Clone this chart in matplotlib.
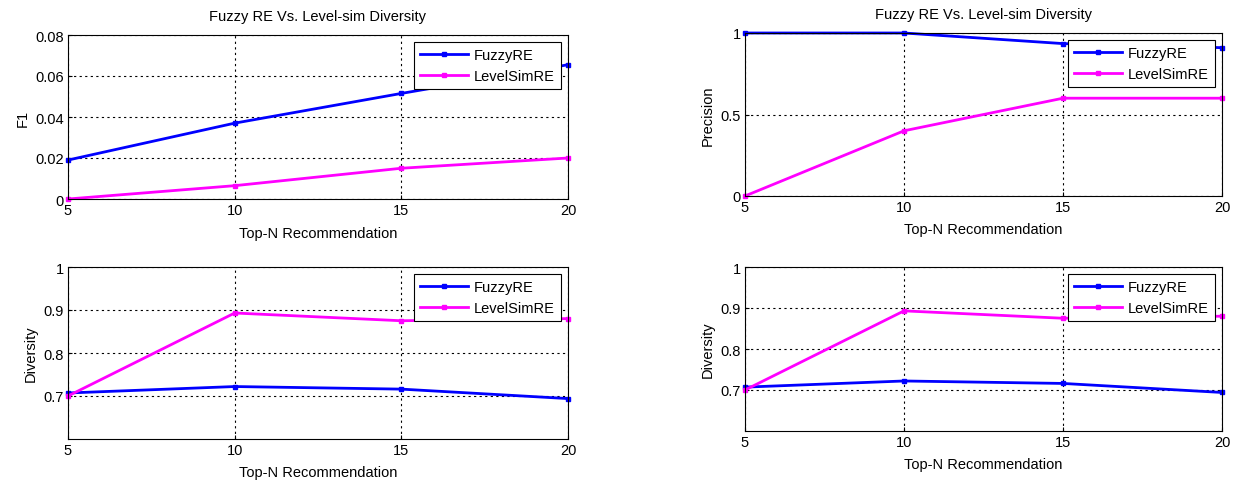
import matplotlib
matplotlib.use('Agg')
import matplotlib.pyplot as plt

plt.rcParams['font.family'] = ['Liberation Sans', 'DejaVu Sans']
plt.rcParams['font.size'] = 10.5

# data
top_n = [5, 10, 15, 20]
f1_fuzzy = [0.019, 0.037, 0.0515, 0.0655]
f1_level = [0.0, 0.0065, 0.015, 0.020]
prec_fuzzy = [1.0, 1.0, 0.935, 0.91]
prec_level = [0.0, 0.40, 0.60, 0.60]
div_fuzzy = [0.707, 0.722, 0.716, 0.694]
div_level = [0.700, 0.893, 0.875, 0.880]

series_names = ['FuzzyRE', 'LevelSimRE']
colors = ['#0000ff', '#ff00ff']

fig = plt.figure(figsize=(12.4, 4.81), dpi=100)
W, H = 1240, 481


def add_ax(left, top, right, bottom):
    return fig.add_axes([left / W, 1 - bottom / H, (right - left) / W, (bottom - top) / H])


def draw(ax, y1, y2, ylabel, ylim, yticks, yticklabels, title=None):
    ax.plot(top_n, y1, color=colors[0], marker='s', markersize=3, linewidth=2, label=series_names[0], clip_on=False)
    ax.plot(top_n, y2, color=colors[1], marker='s', markersize=3, linewidth=2, label=series_names[1], clip_on=False)
    ax.set_xlim(5, 20)
    ax.set_ylim(*ylim)
    ax.set_xticks(top_n)
    ax.set_yticks(yticks)
    ax.set_yticklabels(yticklabels)
    ax.grid(True, color='black', linestyle=(0, (2, 3)), linewidth=0.8)
    ax.tick_params(direction='in', length=3, labelsize=10.5, pad=3)
    ax.set_xlabel('Top-N Recommendation', fontsize=10.5, labelpad=6)
    ax.set_ylabel(ylabel, fontsize=10.5, labelpad=4)
    if title:
        ax.set_title(title, fontsize=10.5, pad=11)
    leg = ax.legend(loc='upper right', fancybox=False, edgecolor='black', framealpha=1,
                    fontsize=10.5, borderaxespad=0.5, borderpad=0.4, handlelength=3.3,
                    handletextpad=0.4, labelspacing=0.5)
    leg.get_frame().set_linewidth(0.8)
    for s in ax.spines.values():
        s.set_linewidth(0.8)


title = 'Fuzzy RE Vs. Level-sim Diversity'

ax1 = add_ax(68, 36, 568, 200)
draw(ax1, f1_fuzzy, f1_level, 'F1', (0, 0.08), [0, 0.02, 0.04, 0.06, 0.08],
     ['0', '0.02', '0.04', '0.06', '0.08'], title)

ax2 = add_ax(745, 34, 1222, 197)
draw(ax2, prec_fuzzy, prec_level, 'Precision', (0, 1), [0, 0.5, 1], ['0', '0.5', '1'], title)

ax3 = add_ax(68, 268, 568, 440)
draw(ax3, div_fuzzy, div_level, 'Diversity', (0.6, 1), [0.7, 0.8, 0.9, 1],
     ['0.7', '0.8', '0.9', '1'])

ax4 = add_ax(745, 268, 1222, 432)
draw(ax4, div_fuzzy, div_level, 'Diversity', (0.6, 1), [0.7, 0.8, 0.9, 1],
     ['0.7', '0.8', '0.9', '1'])

fig.savefig('out.png', dpi=100)
